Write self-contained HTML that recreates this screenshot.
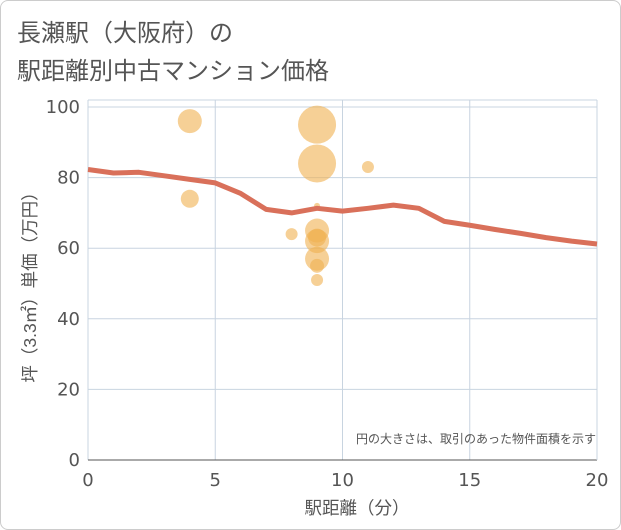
<!DOCTYPE html>
<html><head><meta charset="utf-8"><style>
body{margin:0;background:#fff;font-family:"Liberation Sans","Noto Sans CJK JP",sans-serif;}
#wrap{position:relative;width:619px;height:528px;border:1px solid #ccc;border-radius:8px;overflow:hidden;background:#fff}
</style></head><body>
<div id="wrap">
<svg id="chart" width="621" height="530" style="position:absolute;left:-1px;top:-1px">
<text x="17" y="41" font-size="24" fill="#555">長瀬駅（大阪府）の</text>
<text x="17" y="79" font-size="24" fill="#555">駅距離別中古マンション価格</text>
<g id="grid"></g><g id="bubbles"></g><g id="line"></g><g id="ticks"></g>
<text x="596" y="443" font-size="12" fill="#555" text-anchor="end">円の大きさは、取引のあった物件面積を示す</text>
<text x="357" y="514" font-size="17.5" fill="#555" text-anchor="middle">駅距離（分）</text>
<text transform="translate(36,283) rotate(-90)" font-size="17.5" fill="#555" text-anchor="middle">坪（3.3㎡）単価（万円）</text>
</svg>
</div>
<script>
const xTicks=[0,5,10,15,20];
const yTicks=[0,20,40,60,80,100];
const bubbleX=[4,4,8,9,9,9,9,9,9,9,9,9,11];
const bubbleY=[96,74,64,95,84,65,63,62,57,55,51,72,83];
const bubbleR=[12,9,6,19,19,12,9,12,12,7,6,3,6];
const lineX=[0,1,2,3,4,5,6,7,8,9,10,11,12,13,14,15,16,17,18,19,20];
const lineY=[82.3,81.3,81.5,80.5,79.5,78.5,75.5,71,70,71.3,70.5,71.3,72.2,71.3,67.6,66.5,65.3,64.2,63,62,61.2];
const X0=88,X1=597,Y0=460,Y1=107;
const sx=v=>X0+(X1-X0)*v/20, sy=v=>Y0-(Y0-Y1)*v/100;
const NS="http://www.w3.org/2000/svg";
function mk(t,a,p){const e=document.createElementNS(NS,t);for(const k in a)e.setAttribute(k,a[k]);p.appendChild(e);return e;}
const g=document.getElementById('grid'),tk=document.getElementById('ticks');
mk('rect',{x:X0,y:Y1-7,width:X1-X0,height:Y0-Y1+7,fill:'#fff',stroke:'none'},g);
xTicks.forEach(v=>{const l=mk('line',{x1:sx(v),x2:sx(v),y1:Y1-7,y2:Y0,stroke:'#c8d4e0'},g);

const t=mk('text',{x:sx(v),y:486,'font-size':18,fill:'#555','text-anchor':'middle','font-family':'DejaVu Sans, sans-serif'},tk);t.textContent=v;
});
yTicks.forEach(v=>{const l=mk('line',{x1:X0,x2:X1,y1:sy(v),y2:sy(v),stroke:v===0?'#555':'#c8d4e0'},g);

const t=mk('text',{x:80,y:sy(v)+6,'font-size':18,fill:'#555','text-anchor':'end','font-family':'DejaVu Sans, sans-serif'},tk);t.textContent=v;
});
mk('line',{x1:X0,x2:X1,y1:Y1-7,y2:Y1-7,stroke:'#c8d4e0'},g);
mk('line',{x1:X1,x2:X1,y1:Y1-7,y2:Y0,stroke:'#c8d4e0'},g);
const b=document.getElementById('bubbles');
bubbleX.forEach((v,i)=>{const c=mk('circle',{cx:sx(v),cy:sy(bubbleY[i]),r:bubbleR[i],fill:'rgba(240,176,80,0.6)'},b);
});
const p=mk('polyline',{points:lineX.map((v,i)=>sx(v)+','+sy(lineY[i])).join(' '),fill:'none',stroke:'#d9705a','stroke-width':5,'stroke-linejoin':'round'},document.getElementById('line'));

</script>
</body></html>
